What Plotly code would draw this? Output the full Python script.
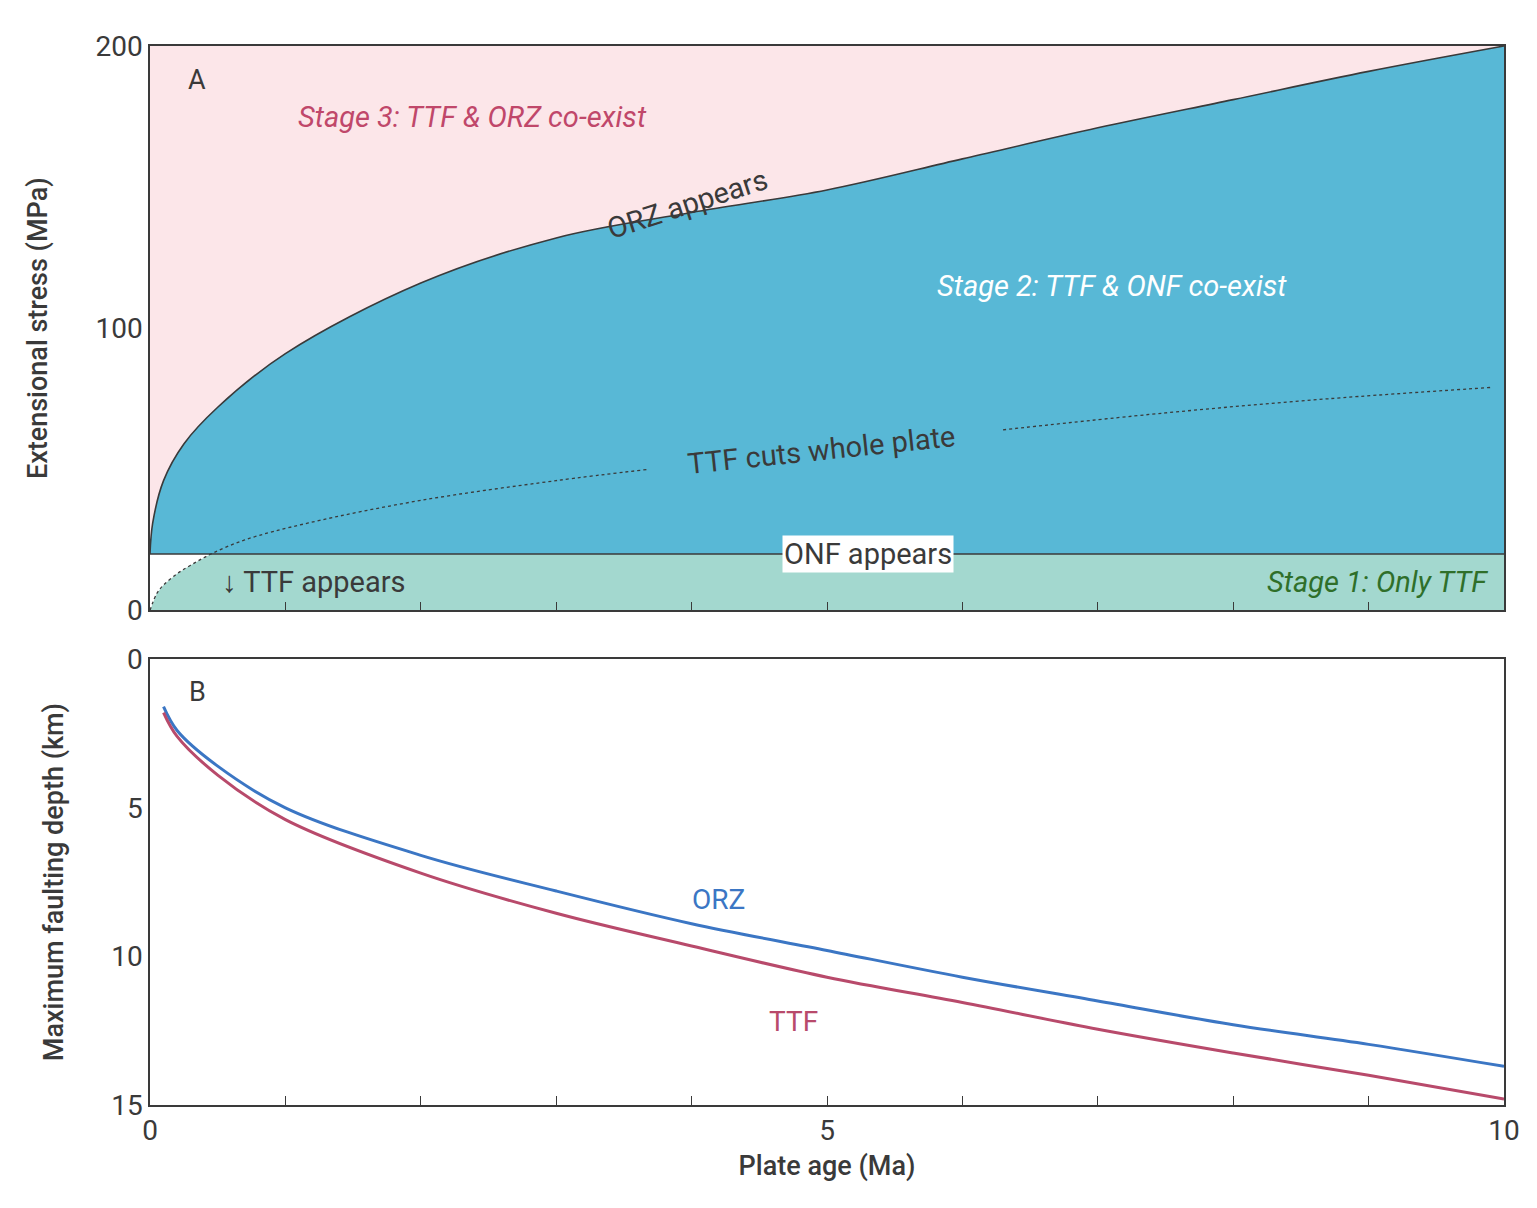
import numpy as np
import plotly.graph_objects as go
from plotly.subplots import make_subplots

# panel A
orz_age = [0, 0.02, 0.1, 0.25, 0.5, 1, 2, 3, 4, 5, 6, 7, 8, 9, 10]
orz_stress = [20, 31, 46, 59, 72, 91, 116, 132, 141, 149, 160, 171, 181, 191, 200]
onf_stress = 20
ttf_age = [0, 0.05, 0.1, 0.2, 0.3, 0.45, 0.7, 1.17, 2, 3, 3.68]
ttf_stress = [0, 6, 9, 13, 16, 20, 25, 31, 39, 46, 50]
ttf_age2 = [6.3, 7.5, 8.7, 9.9]
ttf_stress2 = [64, 70, 75, 79]

# panel B
b_age = [0.1, 0.2, 0.5, 1, 2, 3, 4, 5, 6, 7, 8, 9, 10]
orz_depth = [1.6, 2.4, 3.6, 5.0, 6.6, 7.8, 8.9, 9.8, 10.7, 11.5, 12.3, 12.96, 13.7]
ttf_depth = [1.8, 2.6, 3.9, 5.4, 7.2, 8.55, 9.65, 10.7, 11.55, 12.45, 13.25, 14.0, 14.8]

FONT = "Roboto"
DARK = "#3a3a3a"
fig = make_subplots(rows=2, cols=1, vertical_spacing=0.046, row_heights=[0.533, 0.467])
fig.update_yaxes(domain=[0.467, 1], row=1, col=1)
fig.update_yaxes(domain=[0, 0.421], row=2, col=1)

# pink top
fig.add_trace(go.Scatter(x=[0, 10], y=[200, 200], mode="lines", line=dict(width=0), hoverinfo="skip"), 1, 1)
fig.add_trace(go.Scatter(x=orz_age, y=orz_stress, mode="lines", line=dict(width=0, shape="spline"),
                         fill="tonexty", fillcolor="#fce6e9", hoverinfo="skip"), 1, 1)
# blue
fig.add_trace(go.Scatter(x=[0, 10], y=[onf_stress] * 2, mode="lines", line=dict(width=0), hoverinfo="skip"), 1, 1)
fig.add_trace(go.Scatter(x=orz_age, y=orz_stress, mode="lines", line=dict(color=DARK, width=1.6, shape="spline"),
                         fill="tonexty", fillcolor="#58b8d6", hoverinfo="skip"), 1, 1)
# green (linear so it never rises above the ONF line)
g_age = ttf_age[:6] + [10]
g_val = list(np.minimum(ttf_stress[:6], onf_stress)) + [onf_stress]
fig.add_trace(go.Scatter(x=[0, 10], y=[0, 0], mode="lines", line=dict(width=0), hoverinfo="skip"), 1, 1)
fig.add_trace(go.Scatter(x=g_age, y=g_val, mode="lines", line=dict(width=0),
                         fill="tonexty", fillcolor="#a3d8cf", hoverinfo="skip"), 1, 1)
# ONF line
fig.add_trace(go.Scatter(x=[0, 10], y=[onf_stress] * 2, mode="lines", line=dict(color=DARK, width=1.6)), 1, 1)
# TTF dotted
for xs, ys in [(ttf_age, ttf_stress), (ttf_age2, ttf_stress2)]:
    fig.add_trace(go.Scatter(x=xs, y=ys, mode="lines", line=dict(color=DARK, width=1.3, dash="dot", shape="spline")), 1, 1)

fig.add_trace(go.Scatter(x=b_age, y=orz_depth, mode="lines", line=dict(color="#3b76c4", width=3, shape="spline")), 2, 1)
fig.add_trace(go.Scatter(x=b_age, y=ttf_depth, mode="lines", line=dict(color="#b84a6b", width=3, shape="spline")), 2, 1)

tfont = dict(size=27, color=DARK, family=FONT, weight=500)
ax = dict(showgrid=False, zeroline=False, showline=True, linecolor=DARK, linewidth=1.5, mirror=True,
          automargin=False, tickfont=dict(size=28, color=DARK, family=FONT))
fig.update_xaxes(**ax, range=[0, 10], ticks="inside", ticklen=9, tickcolor=DARK, dtick=1)
fig.update_xaxes(showticklabels=False, row=1, col=1)
fig.update_xaxes(tickvals=list(range(11)), ticktext=["0", "", "", "", "", "5", "", "", "", "", "10"],
                 title=dict(text="Plate age (Ma)", font=tfont, standoff=10), row=2, col=1)
fig.update_yaxes(**ax)
fig.update_yaxes(range=[0, 200], tickvals=[0, 100, 200], ticks="",
                 title=dict(text="Extensional stress (MPa)", font=tfont, standoff=40),
                 row=1, col=1)
fig.update_yaxes(range=[15, 0], tickvals=[0, 5, 10, 15], ticks="",
                 title=dict(text="Maximum faulting depth (km)", font=tfont, standoff=40),
                 row=2, col=1)


def note(x, y, text, color=DARK, italic=False, xref="x", yref="y", angle=0, bg=None, anchor="center", size=28):
    fig.add_annotation(x=x, y=y, xref=xref, yref=yref, text=text, showarrow=False, textangle=angle,
                       xanchor=anchor, bgcolor=bg,
                       font=dict(size=size, color=color, family=FONT, style="italic" if italic else "normal"))


note(0.35, 188, "A", size=27)
note(0.35, 1.1, "B", xref="x2", yref="y2", size=27)
note(1.08, 175, "Stage 3: TTF & ORZ co-exist", color="#c0476a", italic=True, anchor="left", size=29)
note(5.8, 115, "Stage 2: TTF & ONF co-exist", color="white", italic=True, anchor="left", size=29)
note(9.9, 10, "Stage 1: Only TTF", color="#2f6f2a", italic=True, anchor="right", size=29)
note(0.52, 10, "↓ TTF appears", anchor="left", size=29)
note(5.3, 20, "ONF appears", bg="white", size=29)
note(3.97, 144, "ORZ appears", angle=-18, size=29)
note(4.96, 57, "TTF cuts whole plate", angle=-6, size=29)
note(4.2, 8.1, "ORZ", color="#3b76c4", xref="x2", yref="y2", size=28)
note(4.75, 12.2, "TTF", color="#b84a6b", xref="x2", yref="y2", size=28)

fig.update_layout(width=1537, height=1208, showlegend=False, plot_bgcolor="white", paper_bgcolor="white",
                  margin=dict(l=142, r=41, t=38, b=111), font=dict(family=FONT))
fig.write_html("out.html")
